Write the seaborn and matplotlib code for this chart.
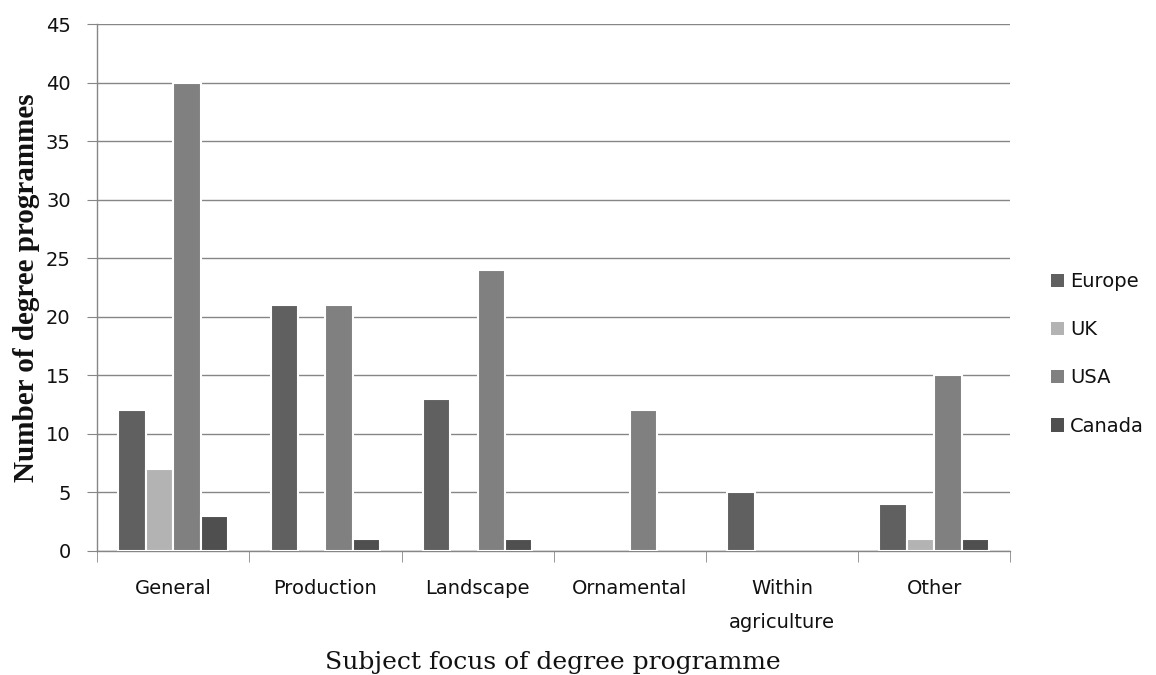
import matplotlib
matplotlib.use("Agg")
import matplotlib.pyplot as plt
import seaborn as sns
import pandas as pd
import numpy as np

categories = ["General", "Production", "Landscape", "Ornamental", "Within\nagriculture", "Other"]
regions = ["Europe", "UK", "USA", "Canada"]
europe = [12, 21, 13, 0, 5, 4]
uk = [7, 0, 0, 0, 0, 1]
usa = [40, 21, 24, 12, 0, 15]
canada = [3, 1, 1, 0, 0, 1]
colors = ["#606060", "#b3b3b3", "#808080", "#4f4f4f"]

rows = []
for reg, vals in zip(regions, [europe, uk, usa, canada]):
    for c, v in zip(categories, vals):
        rows.append({"category": c, "region": reg, "value": v})
df = pd.DataFrame(rows)

sns.set_style("white")
plt.rcParams['font.family'] = ['DejaVu Sans']
plt.rcParams['text.color'] = '#111111'

fig = plt.figure(figsize=(11.56, 6.75), dpi=100)
ax = fig.add_axes([0.084, 0.184, 0.79, 0.78])

sns.barplot(data=df, x="category", y="value", hue="region", order=categories,
            hue_order=regions, palette=colors, width=0.72, ax=ax,
            edgecolor="white", linewidth=1.5, saturation=1, errorbar=None, zorder=3)

for p in ax.patches:
    if p.get_height() == 0:
        p.set_linewidth(0)

ax.set_ylim(0, 45)
ax.set_xlim(-0.5, 5.5)
ax.set_yticks(np.arange(0, 46, 5))
ax.yaxis.grid(True, color="#868686", linewidth=1)
ax.set_axisbelow(True)
for s in ["top", "right"]:
    ax.spines[s].set_visible(False)
for s in ["left", "bottom"]:
    ax.spines[s].set_color("#868686")
    ax.spines[s].set_linewidth(1)

ax.tick_params(axis="y", which="major", direction="out", length=7, color="#868686",
               labelsize=14, pad=12, left=True, labelcolor="#111111")
ax.set_xticks(np.arange(6))
ax.set_xticklabels(categories, fontsize=14, linespacing=2.0)
ax.tick_params(axis="x", which="major", length=0, pad=20, labelcolor="#111111")
ax.set_xticks(np.arange(-0.5, 6.0, 1.0), minor=True)
ax.tick_params(axis="x", which="minor", direction="out", length=8, color="#868686", bottom=True)

ax.set_xlabel("")
fig.text(0.478, 1 - 669 / 675, "Subject focus of degree programme", fontsize=18,
         family="DejaVu Serif", ha="center", va="baseline", color="#111111")
ax.set_ylabel("Number of degree programmes", fontsize=21, family="Liberation Serif",
              fontweight="bold", color="#111111")
ax.yaxis.set_label_coords(-0.062, 0.5)

leg = ax.legend(loc="center left", bbox_to_anchor=(1.025, 0.374), frameon=False,
                fontsize=14, handlelength=0.7, handleheight=0.7, handletextpad=0.3,
                labelspacing=1.5)
for t in leg.get_texts():
    t.set_color("#111111")

fig.savefig("out.png", dpi=100)
